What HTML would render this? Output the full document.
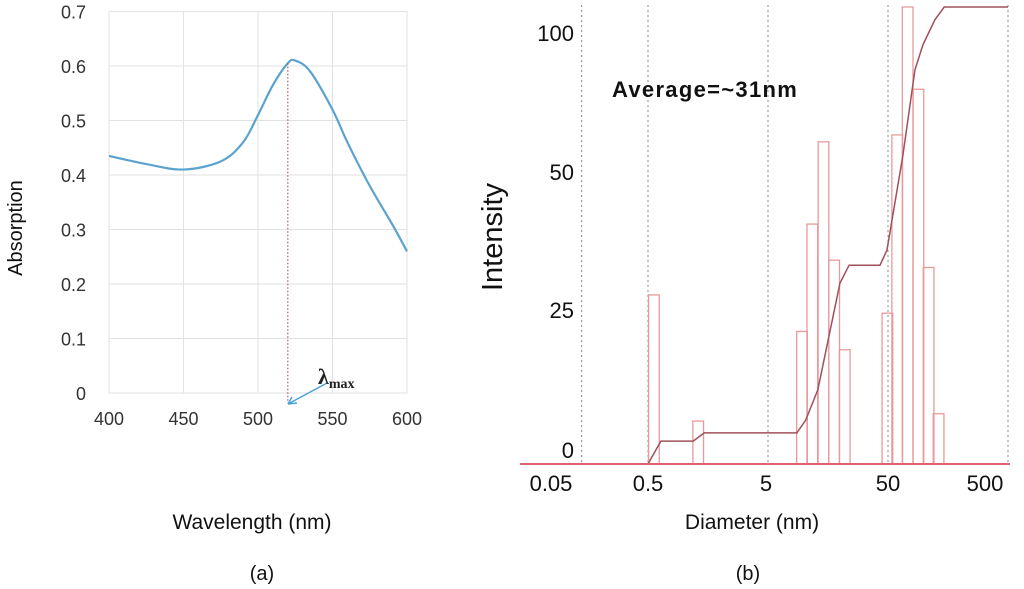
<!DOCTYPE html>
<html><head><meta charset="utf-8"><style>
body{margin:0;background:#fff;width:1024px;height:589px;overflow:hidden}
svg{display:block;font-family:"Liberation Sans",sans-serif}
</style></head><body>
<svg width="1024" height="589">
<g id="ga"></g>
<g id="gb"></g>
<text x="22" y="228" font-size="20" text-anchor="middle" transform="rotate(-90 22 228)" fill="#111">Absorption</text>
<text x="252" y="529" font-size="21" text-anchor="middle" fill="#111">Wavelength (nm)</text>
<text x="262" y="580" font-size="20" text-anchor="middle" fill="#111">(a)</text>
<text x="502" y="237" font-size="29" text-anchor="middle" transform="rotate(-90 502 237)" fill="#111">Intensity</text>
<text x="752" y="529" font-size="21" text-anchor="middle" fill="#111">Diameter (nm)</text>
<text x="748" y="580" font-size="20" text-anchor="middle" fill="#111">(b)</text>
<text x="612" y="97" font-size="22" font-weight="bold" letter-spacing="1.3" fill="#111">Average=~31nm</text>
</svg>
<script>
const NS="http://www.w3.org/2000/svg";
// ---- chart (a) data
const wl=[400,425,450,475,490,500,510,520,525,535,550,560,575,590,600];
const absVals=[0.435,0.42,0.41,0.425,0.46,0.51,0.565,0.605,0.61,0.59,0.52,0.46,0.38,0.31,0.26];
const aXTicks=[400,450,500,550,600];
const aYTicks=[0,0.1,0.2,0.3,0.4,0.5,0.6,0.7];
const lambdaMax=520;
// ---- chart (b) data
const binCenters=[0.56,1.31,9.6,11.7,14.5,17.8,21.8,49.4,59.7,72.9,89.6,109,132];
const binIntensity=[37,9.4,29,52.5,70.5,44.6,25,33,72,100,82,43,11];
const cumD=[0.5,0.64,1.19,1.47,8.7,10.3,13,19.9,23.7,42.9,49,66.6,83.8,97.6,123,147,500];
const cumV=[0,5,5,6.8,6.8,9.6,16.2,39.6,43.5,43.5,46.8,67.6,86.2,91.7,97.2,100,100];
const bXLabels=["0.05","0.5","5","50","500"];
const bXGrid=[0.14,0.5,5,50,500];
const bYLabels=["0","25","50","100"];

function mk(tag,attrs,parent){const e=document.createElementNS(NS,tag);for(const k in attrs)e.setAttribute(k,attrs[k]);parent.appendChild(e);return e;}
// chart a
const ga=document.getElementById('ga');
const ax=v=>109+(v-400)/200*298, ay=v=>393-v/0.1*54.5;
aYTicks.forEach(t=>{const l=mk('line',{x1:109,x2:407,y1:ay(t),y2:ay(t),stroke:'#e2e2e2'},ga);

const tx=mk('text',{x:86,y:ay(t)+7,'font-size':18,'text-anchor':'end',fill:'#333'},ga);tx.textContent=String(t);
});
aXTicks.forEach(t=>{const l=mk('line',{x1:ax(t),x2:ax(t),y1:ay(0.7),y2:393,stroke:'#e2e2e2'},ga);

const tx=mk('text',{x:ax(t),y:425,'font-size':18,'text-anchor':'middle',fill:'#333'},ga);tx.textContent=String(t);
});
let pts=wl.map((w,i)=>[ax(w),ay(absVals[i])]);
let d="M"+pts[0].join(",");
for(let i=0;i<pts.length-1;i++){const p0=pts[Math.max(0,i-1)],p1=pts[i],p2=pts[i+1],p3=pts[Math.min(pts.length-1,i+2)];
d+=` C${p1[0]+(p2[0]-p0[0])/6},${p1[1]+(p2[1]-p0[1])/6} ${p2[0]-(p3[0]-p1[0])/6},${p2[1]-(p3[1]-p1[1])/6} ${p2[0]},${p2[1]}`;}
const cv=mk('path',{d:d,fill:'none',stroke:'#5ba3cf','stroke-width':2.2},ga);

const lm=mk('line',{x1:ax(lambdaMax),x2:ax(lambdaMax),y1:ay(0.605),y2:403,stroke:'#b05a5a','stroke-dasharray':'1.5 2','stroke-width':1.2},ga);

const ar=mk('path',{d:'M327,383 L288,404 M288,404 l9,-1 M288,404 l4,-7',stroke:'#4aa3d8','stroke-width':1.5,fill:'none'},ga);

const lt=mk('text',{x:318,y:384,'font-size':22,'font-weight':'bold','font-family':'Liberation Serif',fill:'#222'},ga);
lt.innerHTML='λ<tspan font-size="14" dy="4">max</tspan>';

// chart b
const gb=document.getElementById('gb');
const bx=v=>648+120*Math.log10(v/0.5), by=v=>464-v*4.57;
bXGrid.forEach(g=>{const l=mk('line',{x1:bx(g),x2:bx(g),y1:5,y2:464,stroke:'#888','stroke-dasharray':'2 3'},gb);
});
const lblX=[551,648,766,888,985],lblY=[450,310,172,33];
bXLabels.forEach((s,i)=>{const t=mk('text',{x:lblX[i],y:491,'font-size':22,'text-anchor':'middle',fill:'#111'},gb);t.textContent=s;
});
bYLabels.forEach((s,i)=>{const t=mk('text',{x:574,y:lblY[i]+8,'font-size':22,'text-anchor':'end',fill:'#111'},gb);t.textContent=s;
});
const half=0.0445;
binCenters.forEach((c,i)=>{const x0=bx(c/Math.pow(10,half)),x1=bx(c*Math.pow(10,half));
const r=mk('rect',{x:x0,y:by(binIntensity[i]),width:x1-x0,height:464-by(binIntensity[i]),fill:'none',stroke:'#e89a9a','stroke-width':1.3},gb);
});
const cp=mk('polyline',{points:cumD.map((v,i)=>bx(v)+","+by(cumV[i])).join(" "),fill:'none',stroke:'#a0505a','stroke-width':1.5},gb);

const bl=mk('line',{x1:520,x2:1010,y1:464,y2:464,stroke:'#e06070','stroke-width':2},gb);

</script>
</body></html>
